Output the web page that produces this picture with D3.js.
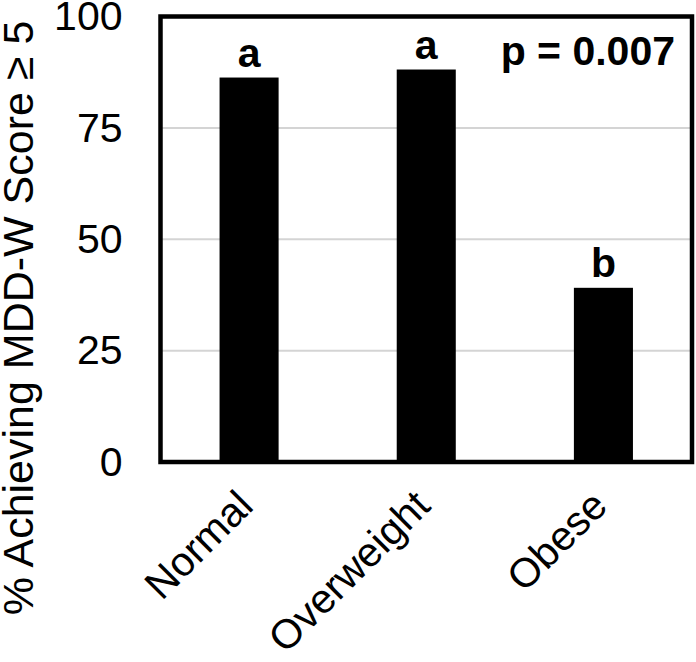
<!DOCTYPE html>
<html>
<head>
<meta charset="utf-8">
<script src="https://cdn.jsdelivr.net/npm/d3@7"></script>
<style>
  body { margin: 0; background: #fff; }
  text { font-family: Arial, "Liberation Sans", Helvetica, sans-serif; }
</style>
</head>
<body>
<div id="chart"></div>
<script>
const categories = ["Normal", "Overweight", "Obese"];
const percentages = [86.3, 88.1, 39.1];
const groupLetters = ["a", "a", "b"];
const yTicks = [0, 25, 50, 75, 100];
const pLabel = "p = 0.007";
const yTitle = "% Achieving MDD-W Score \u2265 5";

const width = 696, height = 662;
const plotLeft = 160.5, plotRight = 692, plotTop = 16.5, plotBottom = 462;

const svg = d3.select("#chart")
  .append("svg")
  .attr("width", width)
  .attr("height", height);

const x = d3.scaleBand()
  .domain(categories)
  .range([plotLeft, plotRight])
  .paddingInner(2 / 3)
  .paddingOuter(1 / 3);

const y = d3.scaleLinear()
  .domain([0, 100])
  .range([plotBottom, plotTop]);

// gridlines (skip 0 and 100, the frame covers them)
svg.append("g")
  .selectAll("line")
  .data(yTicks.filter(d => d > 0 && d < 100))
  .enter().append("line")
  .attr("x1", plotLeft).attr("x2", plotRight)
  .attr("y1", d => y(d)).attr("y2", d => y(d))
  .attr("stroke", "#d4d4d4")
  .attr("stroke-width", 2);

// y axis labels
const yAxis = svg.append("g")
  .attr("transform", `translate(${plotLeft}, 0)`)
  .call(d3.axisLeft(y).tickValues(yTicks).tickSize(0).tickPadding(38));
yAxis.select(".domain").remove();
yAxis.selectAll("text")
  .attr("font-size", "41px")
  .attr("font-family", "Arial, 'Liberation Sans', sans-serif")
  .attr("fill", "#000");

// bars
svg.append("g")
  .selectAll("rect")
  .data(percentages)
  .enter().append("rect")
  .attr("x", (d, i) => x(categories[i]))
  .attr("y", d => y(d))
  .attr("width", x.bandwidth())
  .attr("height", d => y(0) - y(d))
  .attr("fill", "#000");

// significance letters
svg.append("g")
  .selectAll("text")
  .data(percentages)
  .enter().append("text")
  .attr("x", (d, i) => x(categories[i]) + x.bandwidth() / 2)
  .attr("y", d => y(d) - 11)
  .attr("text-anchor", "middle")
  .attr("font-size", "41px")
  .attr("font-weight", "bold")
  .text((d, i) => groupLetters[i]);

// frame
svg.append("rect")
  .attr("x", plotLeft).attr("y", plotTop)
  .attr("width", plotRight - plotLeft).attr("height", plotBottom - plotTop)
  .attr("fill", "none")
  .attr("stroke", "#000")
  .attr("stroke-width", 4.5);

svg.append("text")
  .attr("x", 675)
  .attr("y", 65)
  .attr("text-anchor", "end")
  .attr("font-size", "41px")
  .attr("font-weight", "bold")
  .text(pLabel);

// category labels, rotated
svg.append("g")
  .selectAll("text")
  .data(categories)
  .enter().append("text")
  .attr("transform", d => `translate(${x(d) + x.bandwidth() / 2 + 6}, 508) rotate(-45)`)
  .attr("text-anchor", "end")
  .attr("font-size", "41px")
  .text(d => d);

// y title
svg.append("text")
  .attr("transform", "translate(33, 318) rotate(-90)")
  .attr("text-anchor", "middle")
  .attr("font-size", "43px")
  .text(yTitle);
</script>
</body>
</html>
